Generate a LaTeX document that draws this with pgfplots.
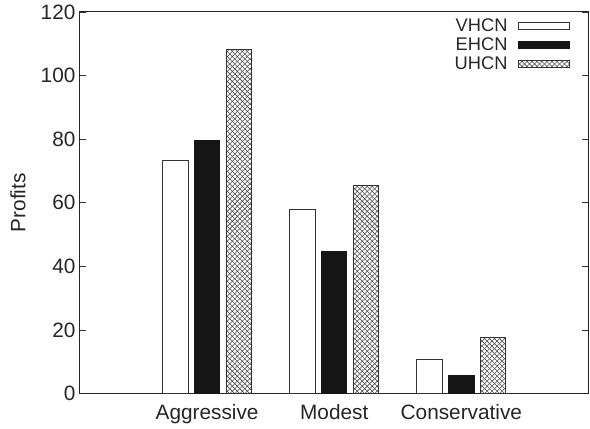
\documentclass[border=0pt]{standalone}
\usepackage{fontspec}
\setmainfont{Liberation Sans}
\usepackage{pgfplots}
\pgfplotsset{compat=1.18}
\usetikzlibrary{patterns.meta}
\tikzdeclarepattern{name=bigcross, type=uncolored, bounding box={(-.1pt,-.1pt) and (5.1pt,5.1pt)}, tile size={(5pt,5pt)}, code={\draw[line width=0.55pt] (0,0)--(5pt,5pt) (0,5pt)--(5pt,0);}}
\definecolor{edge}{HTML}{333333}
\definecolor{darkfill}{HTML}{151515}
\pgfplotsset{boxlegend/.style={legend image code/.code={\path (0pt,0pt); \draw[##1] (9pt,-3.5pt) rectangle (60pt,3.5pt);}}}
\begin{document}
\begin{tikzpicture}
\useasboundingbox (-80pt,-35pt) rectangle (510.5pt,394pt);
\begin{axis}[
  at={(0,0)}, anchor=south west,
  scale only axis, width=509pt, height=382pt,
  xmin=0, xmax=4, ymin=0, ymax=120,
  ytick={0,20,40,60,80,100,120},
  xtick={1,2,3}, xticklabels={Aggressive,Modest,Conservative},
  xtick style={draw=none},
  ytick pos=both, tick align=inside, major tick length=6.5pt,
  ytick style={line width=0.8pt, color=black!80},
  axis line style={line width=1pt, color=black!85},
  /pgf/number format/assume math mode=true,
  tick label style={font=\fontsize{20.8}{23}\selectfont, color=black!85},
  yticklabel style={xshift=-1pt},
  xticklabel style={yshift=-7pt},
  ylabel={Profits},
  ylabel style={at={(axis description cs:-0.122,0.5)}, anchor=center, font=\fontsize{20.8}{23}\selectfont, color=black!85},
  legend style={at={(rel axis cs:1,1)}, anchor=north east, xshift=-18pt, yshift=-5pt, draw=none, fill=none,
    font=\fontsize{18.3}{18.3}\selectfont, row sep=0.5pt, inner sep=0pt, color=black!85},
  legend plot pos=right, legend cell align=right,
  bar width=0.2, 
]
\addplot[ybar, bar shift=-0.25, draw=edge, line width=0.9pt, fill=white, boxlegend]
  coordinates {(1,73.3) (2,57.9) (3,10.9)};
\addlegendentry{VHCN}
\addplot[ybar, bar shift=0, draw=darkfill, line width=0.9pt, fill=darkfill, boxlegend]
  coordinates {(1,79.5) (2,44.8) (3,5.8)};
\addlegendentry{EHCN}
\addplot[ybar, bar shift=0.25, draw=edge, line width=0.9pt, pattern=bigcross, pattern color=black!70, boxlegend]
  coordinates {(1,108.1) (2,65.4) (3,17.6)};
\addlegendentry{UHCN}
\end{axis}
\end{tikzpicture}
\end{document}
